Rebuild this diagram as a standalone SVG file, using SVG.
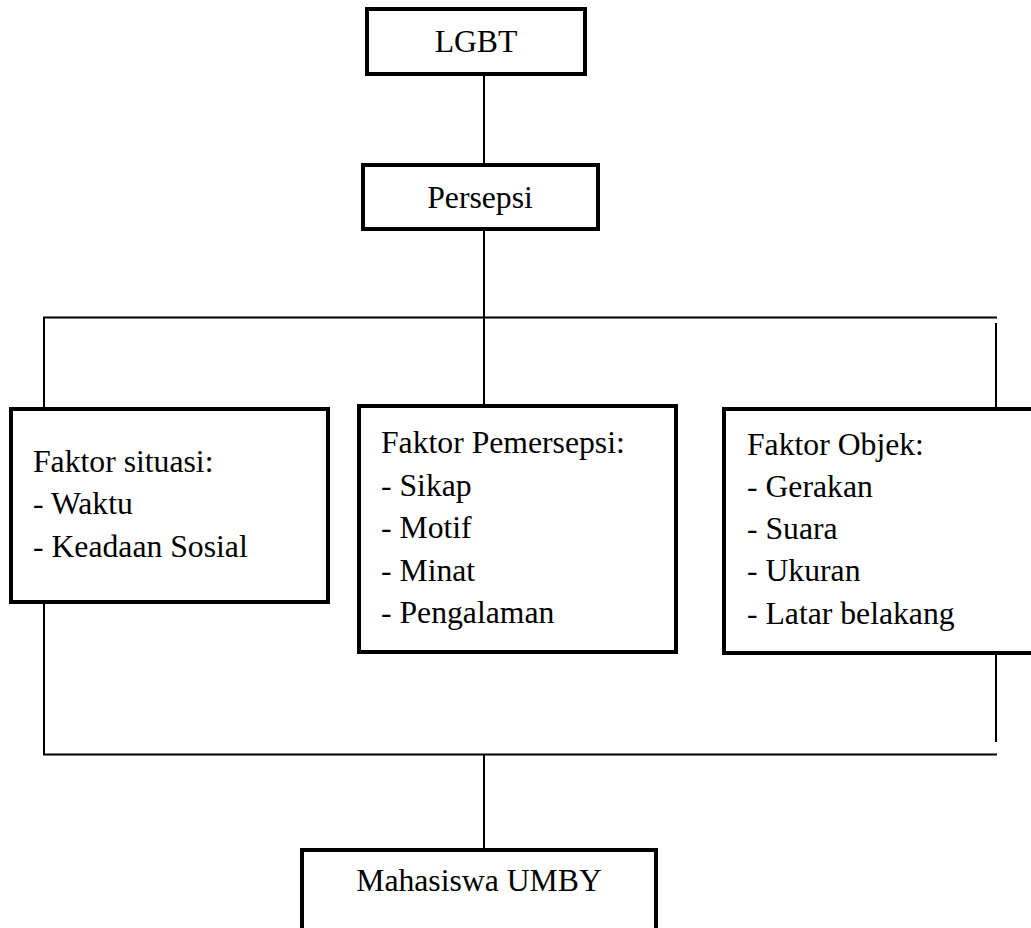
<svg xmlns="http://www.w3.org/2000/svg" width="1031" height="928" viewBox="0 0 1031 928">
<style>
.box{fill:#fff;stroke:#000;stroke-width:4}
.ln{stroke:#000;stroke-width:2;fill:none}
text{font-family:"Liberation Serif","Times New Roman",serif;font-size:31.7px;fill:#000}
.c{text-anchor:middle}
</style>
<rect width="1031" height="928" fill="#fff"/>
<g id="connectors">
<line class="ln" x1="484" y1="76" x2="484" y2="163"/>
<line class="ln" x1="484" y1="231" x2="484" y2="404"/>
<line class="ln" x1="43" y1="317.5" x2="997" y2="317.5"/>
<line class="ln" x1="44" y1="317.5" x2="44" y2="407"/>
<line class="ln" x1="996" y1="323" x2="996" y2="407"/>
<line class="ln" x1="44" y1="604" x2="44" y2="755"/>
<line class="ln" x1="996" y1="654" x2="996" y2="742"/>
<line class="ln" x1="43" y1="754.5" x2="997" y2="754.5"/>
<line class="ln" x1="484" y1="754.5" x2="484" y2="848"/>
</g>
<g id="lgbt">
<rect class="box" x="367" y="9" width="218" height="65"/>
<text class="c" x="476" y="52">LGBT</text>
</g>
<g id="persepsi">
<rect class="box" x="363" y="165" width="235" height="64"/>
<text class="c" x="480" y="208">Persepsi</text>
</g>
<g id="faktor-situasi">
<rect class="box" x="11" y="409" width="317" height="193"/>
<text x="33" y="471.5">Faktor situasi:</text>
<text x="33" y="514">- Waktu</text>
<text x="33" y="556.5">- Keadaan Sosial</text>
</g>
<g id="faktor-pemersepsi">
<rect class="box" x="359" y="406" width="317" height="246"/>
<text x="381" y="453">Faktor Pemersepsi:</text>
<text x="381" y="495.5">- Sikap</text>
<text x="381" y="538">- Motif</text>
<text x="381" y="580.5">- Minat</text>
<text x="381" y="623">- Pengalaman</text>
</g>
<g id="faktor-objek">
<rect class="box" x="724" y="409" width="400" height="244"/>
<text x="747" y="455">Faktor Objek:</text>
<text x="747" y="497">- Gerakan</text>
<text x="747" y="539">- Suara</text>
<text x="747" y="581">- Ukuran</text>
<text x="747" y="623.5">- Latar belakang</text>
</g>
<g id="mahasiswa">
<rect class="box" x="302" y="850" width="354" height="100"/>
<text class="c" x="479" y="891">Mahasiswa UMBY</text>
</g>
</svg>
